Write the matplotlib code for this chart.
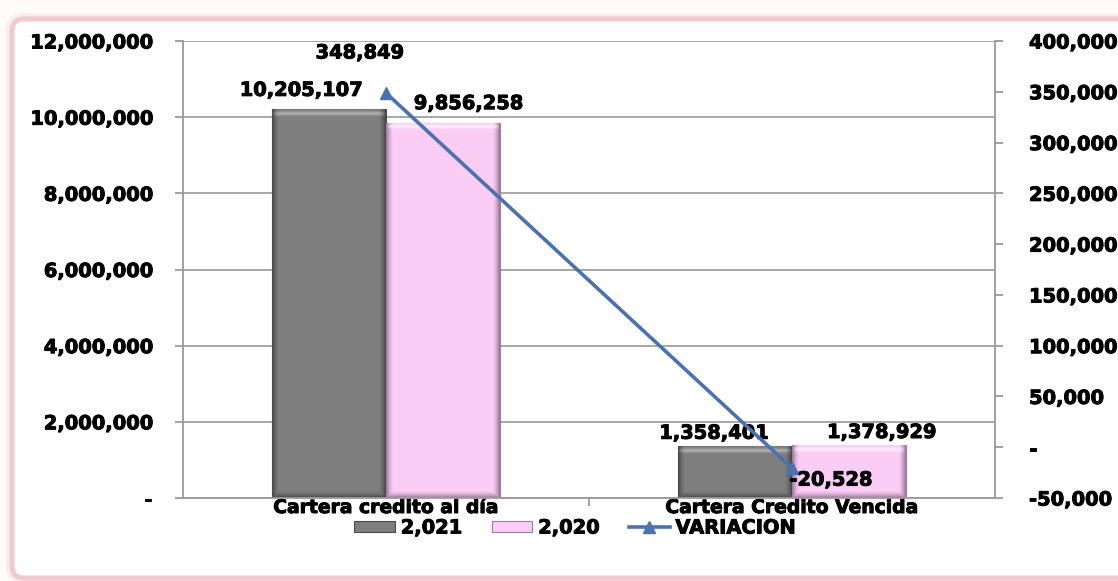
import matplotlib
matplotlib.use('Agg')
import matplotlib.pyplot as plt
import matplotlib.patheffects as pe
import numpy as np
from matplotlib.patches import FancyBboxPatch
from matplotlib.transforms import IdentityTransform
from matplotlib.ticker import FuncFormatter, MultipleLocator
from matplotlib.colors import to_rgb

# Datos de cartera
categorias = ['Cartera credito al día', 'Cartera Credito Vencida']
saldo_2021 = [10205107, 1358401]
saldo_2020 = [9856258, 1378929]
variacion = [348849, -20528]
series = ['2,021', '2,020', 'VARIACION']

W, H, DPI = 1118, 581, 100
PX = 72 / DPI  # pixeles -> puntos

plt.rcParams['font.family'] = ['DejaVu Sans']
plt.rcParams['font.weight'] = 'bold'

GRIS_EJE = '#9A9A9A'
AZUL = '#4A72B0'
GRUESO = [pe.withStroke(linewidth=0.7, foreground='black')]


def fmt_miles(v, pos=None):
    return '-' if abs(v) < 1e-9 else f'{v:,.0f}'


def sombrear(ax, barras, cara, borde, brillo, b=7):
    """Relleno biselado tipo Excel encima de cada barra."""
    cara, borde, brillo = (np.array(to_rgb(c)) for c in (cara, borde, brillo))
    for r in barras:
        bb = r.get_window_extent()
        w, h = max(int(round(bb.width)), 2), max(int(round(bb.height)), 2)
        xx, yy = np.meshgrid(np.arange(w), np.arange(h))
        d = np.minimum(np.minimum(xx, w - 1 - xx), h - 1 - yy)
        e = np.clip(1 - d / b, 0, 1) ** 1.5
        img = cara * (1 - e[..., None]) + borde * e[..., None]
        t = np.exp(-((yy - 4) / 2.0) ** 2) * (1 - e) * 0.8
        img = img * (1 - t[..., None]) + brillo * t[..., None]
        x0, y0 = r.get_x(), r.get_y()
        im = ax.imshow(img, extent=(x0, x0 + r.get_width(), y0, y0 + r.get_height()),
                       aspect='auto', interpolation='bilinear', origin='upper',
                       zorder=r.get_zorder() + 0.1)
        im.set_clip_path(r)


fig = plt.figure(figsize=(W / DPI, H / DPI), dpi=DPI)
fig.patch.set_facecolor('#FFFBFB')

# marco rosado redondeado
for lw, col in [(12, '#FCECEE'), (5, '#F1CACE')]:
    fig.patches.append(FancyBboxPatch((12, 3), 1140, 559,
                                      boxstyle='round,pad=0,rounding_size=12',
                                      transform=IdentityTransform(),
                                      facecolor='white', edgecolor=col,
                                      linewidth=lw * PX, zorder=-5))

ax = fig.add_axes([183 / W, 1 - 498 / H, (995 - 183) / W, (498 - 41) / H])
ax.set_facecolor('none')
ax.set_xlim(-0.5, 1.5)
ax.set_ylim(0, 12000000)
ax.yaxis.set_major_locator(MultipleLocator(2000000))
ax.yaxis.set_major_formatter(FuncFormatter(fmt_miles))
ax.grid(axis='y', color='#A0A0A0', linewidth=1.3)
ax.set_axisbelow(True)
for s in ['top', 'right']:
    ax.spines[s].set_visible(False)
for s in ['left', 'bottom']:
    ax.spines[s].set_color(GRIS_EJE)
    ax.spines[s].set_linewidth(1.3)

x = np.arange(len(categorias))
bw = 0.28
b21 = ax.bar(x - bw / 2, saldo_2021, bw, color='#7E7E7E', edgecolor='#4A4A4A',
             linewidth=0.8, label=series[0], zorder=2)
b20 = ax.bar(x + bw / 2, saldo_2020, bw, color='#FBCDF6', edgecolor='#9E7C9B',
             linewidth=0.8, label=series[1], zorder=2)
sombrear(ax, b21, '#7E7E7E', '#4A4A4A', '#B8B8B8')
sombrear(ax, b20, '#FBCDF6', '#9E7C9B', '#FFF2FF')
ax.set_xlim(-0.5, 1.5)
ax.set_ylim(0, 12000000)

ax.set_xticks(x)
ax.set_xticklabels(categorias)
ax.set_xticks([0.5], minor=True)
ax.tick_params(axis='x', which='major', length=0, pad=0, labelsize=13.5)
ax.tick_params(axis='x', which='minor', length=6, width=1.3, color=GRIS_EJE)
ax.tick_params(axis='y', length=6, width=1.3, color=GRIS_EJE, pad=16, labelsize=14)

# etiquetas de valor de las barras (desplazamientos en pixeles)
desp_21 = [(-28, 19), (-21, 13)]
desp_20 = [(26, 19), (33, 13)]
for barras, vals, desp in [(b21, saldo_2021, desp_21), (b20, saldo_2020, desp_20)]:
    for r, v, (dx, dy) in zip(barras, vals, desp):
        ax.annotate(f'{v:,}', xy=(r.get_x() + r.get_width() / 2, v),
                    xytext=(dx * PX, dy * PX), textcoords='offset points',
                    ha='center', va='center', fontsize=14, zorder=5,
                    path_effects=GRUESO)

# eje secundario con la variacion
ax2 = ax.twinx()
ax2.set_ylim(-50000, 400000)
ax2.yaxis.set_major_locator(MultipleLocator(50000))
ax2.yaxis.set_major_formatter(FuncFormatter(fmt_miles))
for s in ['top', 'left', 'bottom']:
    ax2.spines[s].set_visible(False)
ax2.spines['right'].set_color(GRIS_EJE)
ax2.spines['right'].set_linewidth(1.3)
ax2.tick_params(axis='y', length=6, width=1.3, color=GRIS_EJE, pad=18.5, labelsize=14)
linea, = ax2.plot(x, variacion, color=AZUL, linewidth=2.6, marker='^',
                  markersize=9, label=series[2])

desp_var = [(-26, 40), (39, -12)]
for xi, v, (dx, dy) in zip(x, variacion, desp_var):
    ax2.annotate(f'{v:,}', xy=(xi, v), xytext=(dx * PX, dy * PX),
                 textcoords='offset points', ha='center', va='center',
                 fontsize=14, path_effects=GRUESO)

leg = fig.legend([b21, b20, linea], series, loc='center',
                 bbox_to_anchor=(575 / W, 1 - 528 / H), ncol=3, frameon=False,
                 fontsize=14, handlelength=2.1, handleheight=0.5,
                 handletextpad=0.3, columnspacing=1.5, borderpad=0)

etiquetas = (ax.get_xticklabels() + ax.get_yticklabels()
             + ax2.get_yticklabels() + leg.get_texts())
for t in etiquetas:
    t.set_path_effects(GRUESO)

fig.savefig('out.png', dpi=DPI)
